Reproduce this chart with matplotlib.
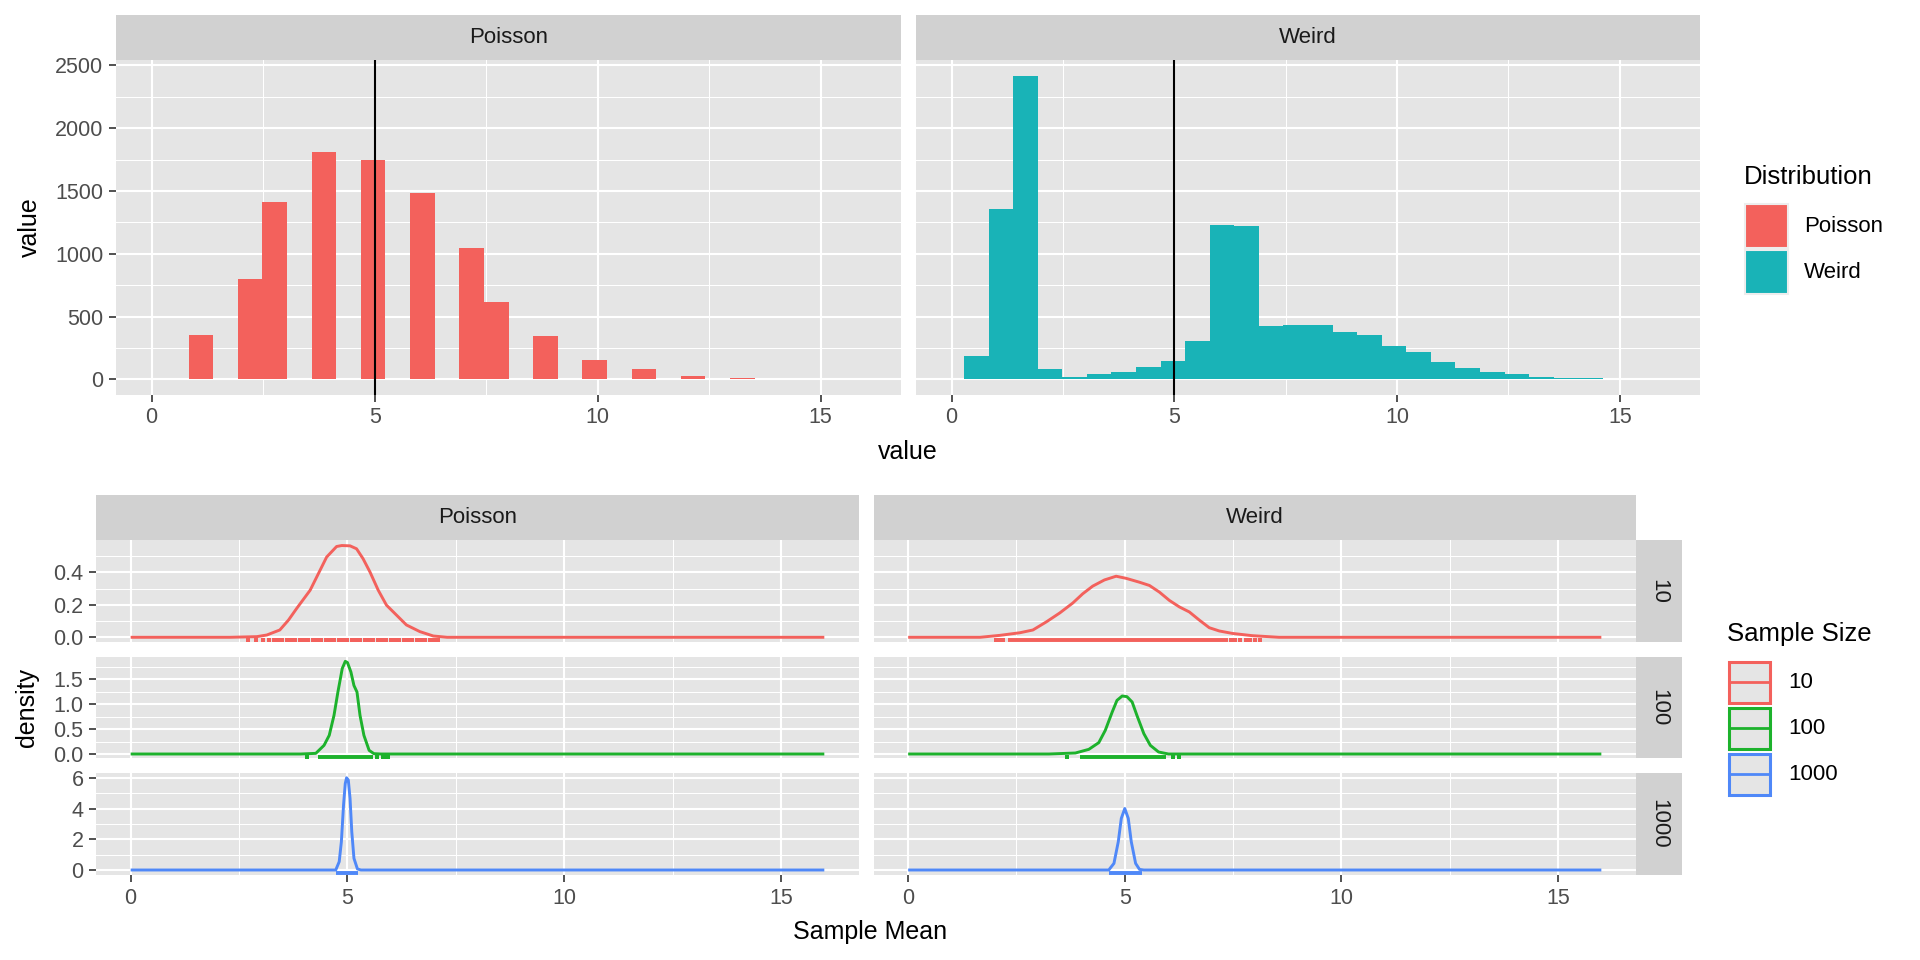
import numpy as np
import matplotlib.pyplot as plt
from matplotlib.patches import Rectangle

plt.rcParams['font.family'] = ['Liberation Sans', 'DejaVu Sans']

W, H = 1920, 960

# ---- top: histograms of the two source distributions (30 bins, 0..16) ----
distributions = ["Poisson", "Weird"]
dist_colors = ["#F3615C", "#19B3B7"]
bin_width = 16 / 29
poisson_counts = [0, 0, 353, 0, 799, 1412, 0, 1810, 0, 1746,
                  0, 1484, 0, 1046, 616, 0, 345, 0, 154, 0,
                  82, 0, 27, 0, 8, 5, 0, 2, 0, 1]
weird_counts = [0, 183, 1356, 2415, 79, 16, 40, 63, 95, 143,
                302, 1226, 1221, 428, 434, 434, 381, 357, 262, 222,
                135, 87, 63, 40, 16, 8, 8, 2, 1, 0]
true_mean = 5

# ---- bottom: density of sample means, by sample size ----
sample_sizes = ["10", "100", "1000"]
size_colors = ["#F3615C", "#1DB22C", "#4F88F8"]

pois10_x = [0, 2.29, 2.91, 3.14, 3.44, 3.64, 3.83, 4.14, 4.33, 4.52, 4.75, 4.87,
            5.06, 5.21, 5.36, 5.52, 5.71, 5.9, 6.13, 6.36, 6.67, 6.98, 7.3, 16]
pois10_y = [0, 0, 0.004, 0.014, 0.045, 0.106, 0.178, 0.29, 0.392, 0.494, 0.559, 0.565,
            0.563, 0.545, 0.484, 0.402, 0.29, 0.198, 0.137, 0.076, 0.035, 0.008, 0, 0]
weird10_x = [0, 1.66, 2.12, 2.58, 2.88, 3.19, 3.5, 3.8, 4.03, 4.26, 4.53, 4.8, 5.03,
             5.34, 5.57, 5.8, 6.03, 6.26, 6.49, 6.72, 6.95, 7.18, 7.48, 7.94, 8.56, 16]
weird10_y = [0, 0, 0.012, 0.028, 0.045, 0.095, 0.15, 0.211, 0.268, 0.315, 0.353, 0.376, 0.363,
             0.339, 0.319, 0.278, 0.227, 0.187, 0.156, 0.106, 0.059, 0.039, 0.024, 0.01, 0, 0]

pois100_x = [0, 3.92, 4.27, 4.46, 4.58, 4.69, 4.78, 4.88, 4.95, 5.0, 5.08, 5.15, 5.22,
             5.29, 5.38, 5.5, 5.61, 5.77, 16]
pois100_y = [0, 0, 0.013, 0.173, 0.373, 0.773, 1.24, 1.71, 1.853, 1.83, 1.64, 1.37, 1.24,
             0.773, 0.373, 0.073, 0.007, 0, 0]
weird100_x = [0, 3.25, 3.86, 4.17, 4.4, 4.55, 4.71, 4.82, 4.94, 5.05, 5.17, 5.28, 5.44,
              5.59, 5.78, 6.01, 16]
weird100_y = [0, 0, 0.02, 0.093, 0.227, 0.473, 0.84, 1.073, 1.16, 1.147, 1.04, 0.773, 0.407,
              0.173, 0.04, 0, 0]

pois1000_x = [0, 4.73, 4.81, 4.86, 4.91, 4.95, 4.98, 5.02, 5.06, 5.1, 5.15, 5.23, 5.31, 16]
pois1000_y = [0, 0, 0.54, 1.84, 4.23, 5.63, 6.0, 5.85, 4.66, 2.49, 0.76, 0.07, 0, 0]
weird1000_x = [0, 4.63, 4.75, 4.85, 4.92, 5.0, 5.08, 5.15, 5.25, 5.34, 5.44, 16]
weird1000_y = [0, 0, 0.43, 1.84, 3.36, 4.0, 3.36, 1.84, 0.43, 0.04, 0, 0]

# rug of the simulated sample means: single ticks and dense runs
pois10_ticks = [2.7, 2.88, 3.06, 3.2, 3.3, 3.4, 3.5, 3.6, 3.7, 3.8, 3.9, 4.0, 4.1, 4.2, 4.3,
                4.4, 4.5, 4.6, 4.7, 4.8, 4.9, 5.0, 5.1, 5.2, 5.3, 5.4, 5.5, 5.6, 5.7, 5.8,
                5.9, 6.0, 6.1, 6.2, 6.3, 6.4, 6.5, 6.6, 6.7, 6.8, 6.9, 7.0, 7.1]
pois10_runs = []
weird10_ticks = [2.03, 2.1, 2.2, 7.45, 7.55, 7.65, 7.8, 7.9, 8.0, 8.13]
weird10_runs = [[2.3, 7.38]]
pois100_ticks = [4.06, 5.69, 5.81, 5.87, 5.94]
pois100_runs = [[4.32, 5.58]]
weird100_ticks = [3.67, 6.11, 6.26]
weird100_runs = [[3.96, 5.95]]
pois1000_ticks = []
pois1000_runs = [[4.73, 5.25]]
weird1000_ticks = []
weird1000_runs = [[4.63, 5.4]]

curves = {
    ("Poisson", "10"): (pois10_x, pois10_y, pois10_ticks, pois10_runs),
    ("Weird", "10"): (weird10_x, weird10_y, weird10_ticks, weird10_runs),
    ("Poisson", "100"): (pois100_x, pois100_y, pois100_ticks, pois100_runs),
    ("Weird", "100"): (weird100_x, weird100_y, weird100_ticks, weird100_runs),
    ("Poisson", "1000"): (pois1000_x, pois1000_y, pois1000_ticks, pois1000_runs),
    ("Weird", "1000"): (weird1000_x, weird1000_y, weird1000_ticks, weird1000_runs),
}

PANEL = "#E5E5E5"
STRIP = "#D1D1D1"
TICKTXT = "#4D4D4D"

fig = plt.figure(figsize=(W / 100, H / 100), dpi=100)


def px_axes(x0, y0, x1, y1, **kw):
    return fig.add_axes([x0 / W, 1 - y1 / H, (x1 - x0) / W, (y1 - y0) / H], **kw)


def style_panel(ax, xlabels, ylabels):
    ax.set_facecolor(PANEL)
    for s in ax.spines.values():
        s.set_visible(False)
    ax.set_axisbelow(True)
    ax.grid(which="major", color="white", lw=1.5)
    ax.grid(which="minor", color="white", lw=0.75)
    ax.tick_params(which="major", length=5, width=1.2, color="#333333",
                   labelsize=15.5, labelcolor=TICKTXT, pad=4)
    ax.tick_params(which="minor", length=0)
    ax.tick_params(bottom=xlabels, labelbottom=xlabels, left=ylabels, labelleft=ylabels)
    ax.set_xlim(-0.8, 16.8)
    ax.set_xticks([0, 5, 10, 15])
    ax.set_xticks([2.5, 7.5, 12.5], minor=True)


def strip(x0, y0, x1, y1, label, rot=0):
    s = px_axes(x0, y0, x1, y1)
    s.set_facecolor(STRIP)
    s.set_xticks([])
    s.set_yticks([])
    for sp in s.spines.values():
        sp.set_visible(False)
    s.text(0.5, 0.5, label, transform=s.transAxes, ha="center", va="center",
           rotation=rot, fontsize=16, color="#1A1A1A")


# ---- top row ----
top_cols = [(116, 901), (916, 1700)]
for i, (name, counts) in enumerate(zip(distributions, [poisson_counts, weird_counts])):
    x0, x1 = top_cols[i]
    ax = px_axes(x0, 60, x1, 395)
    style_panel(ax, True, i == 0)
    centers = np.arange(len(counts)) * bin_width
    ax.bar(centers, counts, width=bin_width, color=dist_colors[i], linewidth=0)
    ax.axvline(true_mean, color="black", lw=1.5)
    ax.set_ylim(-124, 2542)
    ax.set_yticks([0, 500, 1000, 1500, 2000, 2500])
    ax.set_yticks([250, 750, 1250, 1750, 2250], minor=True)
    strip(x0, 15, x1, 60, name)

# ---- bottom grid ----
bot_cols = [(96, 859), (873.5, 1636)]
rows = [(540, 642), (657, 758), (773, 875)]
row_ylim = [(-0.029, 0.599), (-0.08, 1.94), (-0.325, 6.31)]
row_rug_y = [-0.0185, -0.06, -0.215]
row_ticks = [[0, 0.2, 0.4], [0, 0.5, 1.0, 1.5], [0, 2, 4, 6]]
row_minor = [[0.1, 0.3, 0.5], [0.25, 0.75, 1.25, 1.75], [1, 3, 5]]
row_fmt = ["{:.1f}", "{:.1f}", "{:.0f}"]

for r, n in enumerate(sample_sizes):
    y0, y1 = rows[r]
    for c, name in enumerate(distributions):
        x0, x1 = bot_cols[c]
        ax = px_axes(x0, y0, x1, y1)
        style_panel(ax, r == 2, c == 0)
        xs, ys, ticks, runs = curves[(name, n)]
        col = size_colors[r]
        ax.plot(xs, ys, color=col, lw=2.1, solid_joinstyle="round", solid_capstyle="butt")
        if ticks:
            ax.plot(ticks, [row_rug_y[r]] * len(ticks), ls="none", marker="s",
                    ms=2.6, mew=0, color=col, clip_on=False)
        for lo, hi in runs:
            ax.hlines(row_rug_y[r], lo, hi, color=col, lw=2.8, clip_on=False)
        ax.set_ylim(*row_ylim[r])
        ax.set_yticks(row_ticks[r])
        ax.set_yticklabels([row_fmt[r].format(v) for v in row_ticks[r]])
        ax.set_yticks(row_minor[r], minor=True)
        if r == 0:
            strip(x0, 495, x1, 540, name)
    strip(1636, y0, 1682, y1, n, rot=-90)

# ---- titles and legends (pixel overlay) ----
ov = fig.add_axes([0, 0, 1, 1])
ov.set_xlim(0, W)
ov.set_ylim(H, 0)
ov.axis("off")

ov.text(908, 459, "value", ha="center", va="baseline", fontsize=18)
ov.text(870, 939, "Sample Mean", ha="center", va="baseline", fontsize=18)
ov.text(37, 227.5, "value", ha="center", va="baseline", rotation=90,
        rotation_mode="anchor", fontsize=18)
ov.text(34, 707.5, "density", ha="center", va="baseline", rotation=90,
        rotation_mode="anchor", fontsize=18)

ov.text(1744, 184, "Distribution", ha="left", va="baseline", fontsize=18.5)
key_y = [(204, 248), (249.5, 293.5)]
for (ky0, ky1), name, col in zip(key_y, distributions, dist_colors):
    ov.add_patch(Rectangle((1745, ky0), 43, ky1 - ky0, facecolor=col,
                           edgecolor="#EDEDED", lw=1.5))
    ov.text(1804, (ky0 + ky1) / 2 + 6, name, ha="left", va="baseline", fontsize=16)

ov.text(1727, 641.5, "Sample Size", ha="left", va="baseline", fontsize=18.5)
key_y = [(660, 704), (706.5, 750), (752.5, 796)]
for (ky0, ky1), n, col in zip(key_y, sample_sizes, size_colors):
    ov.add_patch(Rectangle((1728.5, ky0 + 1.5), 41.5, ky1 - ky0 - 3, facecolor=PANEL,
                           edgecolor=col, lw=2.2))
    ov.plot([1728.5, 1770], [(ky0 + ky1) / 2] * 2, color=col, lw=2.0)
    ov.text(1788, (ky0 + ky1) / 2 + 6, n, ha="left", va="baseline", fontsize=16)

fig.savefig("out.png", dpi=100)
